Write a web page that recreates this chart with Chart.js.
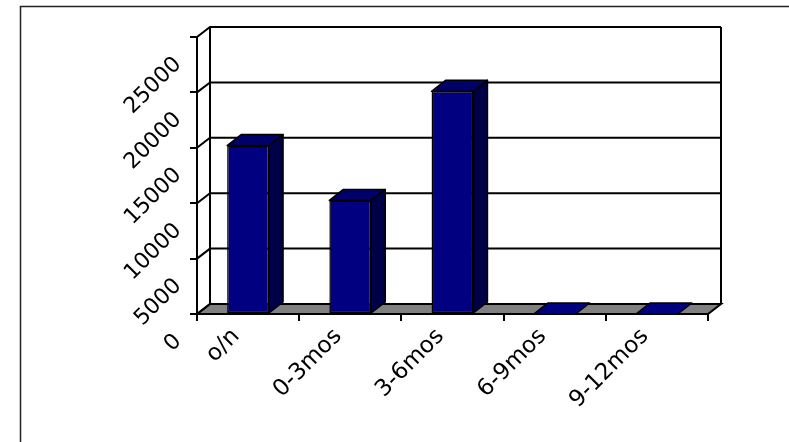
<!DOCTYPE html>
<html>
<head>
<meta charset="utf-8">
<script src="https://cdn.jsdelivr.net/npm/chart.js@4/dist/chart.umd.min.js"></script>
<style>
  html, body { margin: 0; padding: 0; background: #fff; }
  canvas { display: block; }
</style>
</head>
<body>
<canvas id="chart" width="789" height="442"></canvas>
<script>
// Amounts by maturity bucket
const categories = ['o/n', '0-3mos', '3-6mos', '6-9mos', '9-12mos'];
const amounts = [15200, 10250, 20100, 0, 0];
const yTickValues = [0, 5000, 10000, 15000, 20000, 25000];

const Y_FONT = { family: 'DejaVu Sans', size: 22 };
const X_FONT = { family: 'DejaVu Sans', size: 23 };
const FRONT = '#000080';
const TOP = '#00006a';
const SIDE = '#000048';
const FLOOR = '#808080';
const WALL_DX = 13, WALL_DY = 10;   // depth of walls / floor
const BAR_DX = 14, BAR_DY = 11;     // depth of the columns

// Back wall, side wall, floor and the 3D faces of the columns
const frame3d = {
  id: 'frame3d',
  beforeDraw(chart) {
    const { ctx, chartArea: a, scales: { y } } = chart;
    ctx.save();
    ctx.fillStyle = '#fff';
    ctx.fillRect(0, 0, chart.width, chart.height);

    // chart area frame
    ctx.strokeStyle = '#222';
    ctx.lineWidth = 1.5;
    ctx.beginPath();
    ctx.moveTo(20.5, chart.height + 2);
    ctx.lineTo(20.5, 6.5);
    ctx.lineTo(chart.width + 2, 6.5);
    ctx.stroke();

    const L = a.left, R = a.right, B = y.getPixelForValue(0);

    // floor
    ctx.beginPath();
    ctx.moveTo(L, B);
    ctx.lineTo(R, B);
    ctx.lineTo(R + WALL_DX, B - WALL_DY);
    ctx.lineTo(L + WALL_DX, B - WALL_DY);
    ctx.closePath();
    ctx.fillStyle = FLOOR;
    ctx.fill();
    ctx.strokeStyle = '#000';
    ctx.lineWidth = 2;
    ctx.stroke();

    // gridlines across the side wall and back wall
    yTickValues.forEach(v => {
      const py = y.getPixelForValue(v);
      ctx.beginPath();
      ctx.moveTo(L, py);
      ctx.lineTo(L + WALL_DX, py - WALL_DY);
      ctx.lineTo(R + WALL_DX, py - WALL_DY);
      ctx.stroke();
    });
    const topY = y.getPixelForValue(yTickValues[yTickValues.length - 1]);
    ctx.beginPath();
    ctx.moveTo(L + WALL_DX, topY - WALL_DY);
    ctx.lineTo(L + WALL_DX, B - WALL_DY);
    ctx.moveTo(R + WALL_DX, topY - WALL_DY);
    ctx.lineTo(R + WALL_DX, B - WALL_DY);
    ctx.stroke();
    ctx.restore();
  },
  afterDatasetsDraw(chart) {
    const { ctx } = chart;
    const meta = chart.getDatasetMeta(0);
    ctx.save();
    ctx.strokeStyle = '#000';
    ctx.lineWidth = 1.5;
    ctx.lineJoin = 'round';
    meta.data.forEach(bar => {
      const { x, y, base, width } = bar.getProps(['x', 'y', 'base', 'width'], true);
      const l = x - width / 2, r = x + width / 2;
      // top face
      ctx.beginPath();
      ctx.moveTo(l, y);
      ctx.lineTo(l + BAR_DX, y - BAR_DY);
      ctx.lineTo(r + BAR_DX, y - BAR_DY);
      ctx.lineTo(r, y);
      ctx.closePath();
      ctx.fillStyle = base - y > 0.5 ? TOP : FRONT;
      ctx.fill();
      ctx.stroke();
      // side face
      if (base - y > 0.5) {
        ctx.beginPath();
        ctx.moveTo(r, y);
        ctx.lineTo(r + BAR_DX, y - BAR_DY);
        ctx.lineTo(r + BAR_DX, base - BAR_DY);
        ctx.lineTo(r, base);
        ctx.closePath();
        ctx.fillStyle = SIDE;
        ctx.fill();
        ctx.stroke();
      }
    });
    ctx.restore();
  }
};

new Chart(document.getElementById('chart'), {
  type: 'bar',
  data: {
    labels: categories,
    datasets: [{
      data: amounts,
      backgroundColor: FRONT,
      borderColor: '#000',
      borderWidth: 1.5,
      borderSkipped: false,
      barPercentage: 0.41,
      categoryPercentage: 1
    }]
  },
  options: {
    responsive: false,
    animation: false,
    devicePixelRatio: 1,
    layout: { padding: { top: 37, right: 81, left: 0, bottom: 0 } },
    plugins: { legend: { display: false }, tooltip: { enabled: false } },
    scales: {
      x: {
        grid: { drawOnChartArea: false, tickLength: 7, color: '#000', lineWidth: 2, offset: true },
        border: { color: '#000', width: 2 },
        ticks: {
          autoSkip: false, minRotation: 45, maxRotation: 45,
          labelOffset: -12, padding: 2, color: '#000', font: X_FONT
        },
        afterFit: s => { s.height = 128; }
      },
      y: {
        min: 0, max: 25000,
        afterBuildTicks: s => { s.ticks = yTickValues.map(v => ({ value: v })); },
        grid: { drawOnChartArea: false, tickLength: 7, color: '#000', lineWidth: 2 },
        border: { color: '#000', width: 2 },
        ticks: {
          minRotation: 45, maxRotation: 45, labelOffset: 24, padding: 12,
          color: '#000', font: Y_FONT, callback: v => String(v)
        },
        afterFit: s => { s.width = 197; }
      }
    }
  },
  plugins: [frame3d]
});
</script>
</body>
</html>
